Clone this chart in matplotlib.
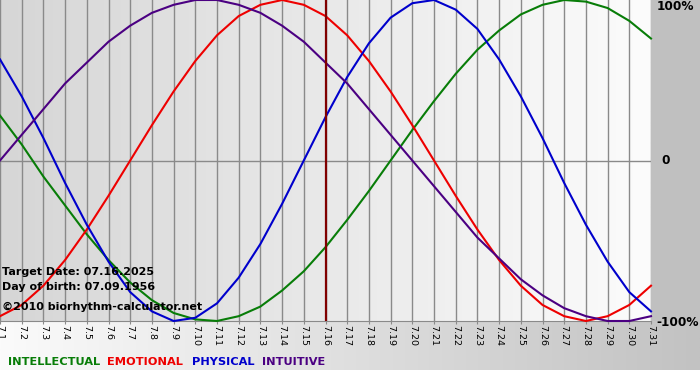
import matplotlib.pyplot as plt
import numpy as np
from matplotlib.colors import LinearSegmentedColormap

# day labels, 1..31 July
days = ['7.%d' % d for d in range(1, 32)]

# cycle values, -1 .. 1 per day
physical = [0.63, 0.40, 0.14, -0.14, -0.40, -0.63, -0.82, -0.94, -1.00, -0.98,
            -0.89, -0.73, -0.52, -0.27, 0.00, 0.27, 0.52, 0.73, 0.89, 0.98,
            1.00, 0.94, 0.82, 0.63, 0.40, 0.14, -0.14, -0.40, -0.63, -0.82, -0.94]
emotional = [-0.97, -0.90, -0.78, -0.62, -0.43, -0.22, 0.00, 0.22, 0.43, 0.62,
             0.78, 0.90, 0.97, 1.00, 0.97, 0.90, 0.78, 0.62, 0.43, 0.22,
             0.00, -0.22, -0.43, -0.62, -0.78, -0.90, -0.97, -1.00, -0.97, -0.90, -0.78]
intellectual = [0.28, 0.10, -0.10, -0.28, -0.46, -0.62, -0.76, -0.87, -0.95, -0.99,
                -1.00, -0.97, -0.91, -0.81, -0.69, -0.54, -0.37, -0.19, 0.00, 0.19,
                0.37, 0.54, 0.69, 0.81, 0.91, 0.97, 1.00, 0.99, 0.95, 0.87, 0.76]
intuitive = [0.00, 0.16, 0.32, 0.48, 0.61, 0.74, 0.84, 0.92, 0.97, 1.00,
             1.00, 0.97, 0.92, 0.84, 0.74, 0.61, 0.48, 0.32, 0.16, 0.00,
             -0.16, -0.32, -0.48, -0.61, -0.74, -0.84, -0.92, -0.97, -1.00, -1.00, -0.97]
target_idx = 15  # 7.16

series = [('INTELLECTUAL', intellectual, '#087d08'),
          ('EMOTIONAL', emotional, '#ee0000'),
          ('PHYSICAL', physical, '#0000cc'),
          ('INTUITIVE', intuitive, '#4b0082')]

W, H = 700, 380
fig = plt.figure(figsize=(7, 3.8), dpi=100)

# background: bottom gradient strip and grey right panel
bg = fig.add_axes([0, 0, 1, 1])
bg.set_xlim(0, W)
bg.set_ylim(H, 0)
bg.axis('off')
strip = LinearSegmentedColormap.from_list('strip', ['#fbfbfb', '#c2c2c2'])
bg.imshow(np.linspace(0, 1, 256)[None, :], cmap=strip, aspect='auto',
          extent=(0, W, 370, 321))
bg.add_patch(plt.Rectangle((651, 0), W - 651, 321, color='#c0c0c0', lw=0))

ax = fig.add_axes([0, 1 - 321 / H, 651 / W, 321 / H])
plot_bg = LinearSegmentedColormap.from_list('pbg', ['#d6d6d6', '#fcfcfc'])
ax.imshow(np.linspace(0, 1, 256)[None, :], cmap=plot_bg, aspect='auto',
          extent=(0, len(days) - 1, -1, 1), zorder=0)
ax.set_xlim(0, len(days) - 1)
ax.set_ylim(-1, 1)

x = np.arange(len(days))
for xi in x:
    ax.axvline(xi, color='#8a8a8a', lw=1, zorder=1)
ax.axhline(0, color='#8a8a8a', lw=1, zorder=1)

for name, vals, col in series:
    ax.plot(x, vals, color=col, lw=1.5, zorder=3, clip_on=False,
            solid_joinstyle='round')
ax.axvline(target_idx, color='#800000', lw=1.6, zorder=4)

for s in ['left', 'top', 'right']:
    ax.spines[s].set_visible(False)
ax.spines['bottom'].set_color('#8a8a8a')
ax.set_yticks([])
ax.set_xticks(x)
ax.set_xticklabels(days, rotation=-90, fontsize=6.8)
ax.tick_params(axis='x', length=2, color='#8a8a8a', pad=1)

def px(xp, yp):
    return xp / W, 1 - yp / H

kw = dict(fontsize=8.7, fontweight='bold', va='center', ha='left')
fig.text(*px(657, 7), '100%', **kw)
fig.text(*px(661, 161), '0', **kw)
fig.text(*px(656, 322), '-100%', **kw)

kw = dict(fontsize=8, fontweight='bold', va='center', ha='left')
fig.text(*px(2, 272), 'Target Date: 07.16.2025', **kw)
fig.text(*px(2, 287), 'Day of birth: 07.09.1956', **kw)
fig.text(*px(2, 307), '\u00a92010 biorhythm-calculator.net', **kw)

legend_x = [8, 107, 192, 262]
for lx, (name, vals, col) in zip(legend_x, series):
    fig.text(*px(lx, 362), name, color=col, fontsize=8.2, fontweight='bold',
             va='center', ha='left')

fig.savefig('out.png', dpi=100)
